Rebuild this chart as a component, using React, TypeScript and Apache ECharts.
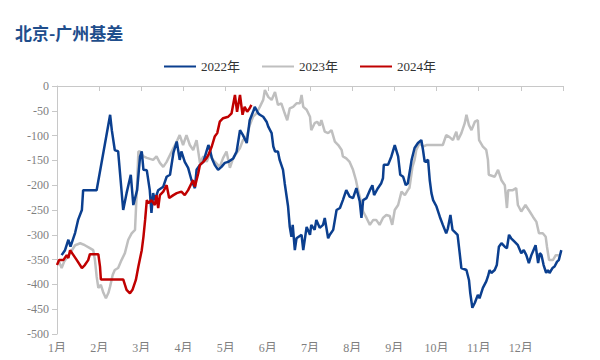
import React, { useEffect, useRef } from "react";
import * as echarts from "echarts";

const monthLabels = ["1月", "2月", "3月", "4月", "5月", "6月", "7月", "8月", "9月", "10月", "11月", "12月"];
const seriesNames = ["2022年", "2023年", "2024年"];

// x positions are in months from 1 Jan (0 = 1月 start, 12 = year end)
const x2022 = [0.11, 0.19, 0.27, 0.32, 0.43, 0.5, 0.59, 0.62, 0.94, 1.26, 1.3, 1.37, 1.45, 1.57, 1.65, 1.75, 1.81, 1.9, 1.97, 2.01, 2.05, 2.13, 2.2, 2.24, 2.28, 2.32, 2.4, 2.52, 2.6, 2.68, 2.76, 2.84, 2.91, 2.95, 3.03, 3.11, 3.19, 3.27, 3.31, 3.39, 3.47, 3.59, 3.63, 3.67, 3.74, 3.82, 3.9, 3.98, 4.06, 4.18, 4.26, 4.34, 4.41, 4.5, 4.57, 4.65, 4.69, 4.77, 4.81, 4.89, 4.97, 5.01, 5.09, 5.13, 5.17, 5.24, 5.28, 5.36, 5.4, 5.48, 5.52, 5.56, 5.59, 5.64, 5.68, 5.8, 5.84, 5.92, 6.0, 6.03, 6.11, 6.15, 6.23, 6.31, 6.35, 6.43, 6.47, 6.55, 6.63, 6.71, 6.78, 6.86, 6.94, 7.02, 7.1, 7.18, 7.22, 7.26, 7.34, 7.42, 7.48, 7.52, 7.61, 7.69, 7.73, 7.75, 7.85, 7.93, 8.01, 8.09, 8.14, 8.21, 8.27, 8.32, 8.41, 8.48, 8.56, 8.64, 8.68, 8.72, 8.8, 8.84, 8.88, 8.92, 9.0, 9.08, 9.15, 9.23, 9.27, 9.33, 9.38, 9.43, 9.5, 9.55, 9.59, 9.71, 9.77, 9.8, 9.85, 9.91, 9.98, 10.02, 10.1, 10.18, 10.22, 10.26, 10.3, 10.38, 10.43, 10.48, 10.54, 10.62, 10.67, 10.72, 10.77, 10.85, 10.93, 11.01, 11.07, 11.13, 11.19, 11.25, 11.3, 11.35, 11.41, 11.45, 11.49, 11.54, 11.6, 11.64, 11.68, 11.75, 11.8, 11.86, 11.9, 11.96];
const y2022 = [-341, -331, -310, -324, -296, -270, -250, -210, -210, -58, -89, -129, -132, -250, -216, -179, -240, -210, -142, -132, -169, -170, -210, -256, -216, -230, -210, -203, -183, -179, -135, -112, -149, -132, -153, -165, -190, -206, -169, -159, -153, -119, -129, -145, -159, -169, -163, -155, -153, -146, -132, -89, -99, -115, -69, -52, -42, -55, -58, -62, -72, -82, -95, -122, -132, -132, -149, -169, -196, -243, -284, -304, -280, -331, -307, -300, -331, -284, -300, -280, -290, -270, -286, -280, -266, -307, -300, -290, -250, -246, -230, -210, -223, -226, -206, -233, -266, -230, -226, -210, -200, -220, -206, -196, -186, -159, -159, -142, -119, -142, -179, -183, -200, -196, -149, -125, -115, -109, -129, -153, -149, -190, -216, -230, -243, -264, -280, -297, -287, -260, -290, -294, -300, -337, -367, -371, -391, -417, -447, -437, -421, -428, -407, -394, -384, -371, -377, -371, -361, -324, -317, -324, -327, -300, -307, -314, -321, -337, -331, -341, -357, -341, -331, -321, -357, -337, -341, -361, -377, -371, -377, -367, -364, -354, -351, -331];

const x2023 = [0.03, 0.11, 0.17, 0.31, 0.43, 0.55, 0.66, 0.78, 0.86, 0.9, 0.94, 0.98, 1.04, 1.1, 1.16, 1.22, 1.26, 1.32, 1.37, 1.45, 1.53, 1.61, 1.69, 1.77, 1.85, 1.89, 1.93, 1.97, 2.05, 2.13, 2.28, 2.36, 2.44, 2.52, 2.6, 2.76, 2.84, 2.91, 2.99, 3.07, 3.15, 3.23, 3.31, 3.39, 3.47, 3.55, 3.63, 3.7, 3.86, 3.94, 4.02, 4.1, 4.18, 4.26, 4.34, 4.41, 4.5, 4.57, 4.65, 4.73, 4.81, 4.89, 4.93, 5.01, 5.09, 5.17, 5.24, 5.32, 5.4, 5.46, 5.52, 5.6, 5.68, 5.76, 5.8, 5.84, 5.92, 6.0, 6.03, 6.11, 6.17, 6.23, 6.27, 6.35, 6.43, 6.51, 6.59, 6.67, 6.75, 6.78, 6.86, 6.94, 7.02, 7.09, 7.14, 7.2, 7.26, 7.34, 7.42, 7.5, 7.57, 7.65, 7.73, 7.81, 7.89, 7.95, 8.01, 8.09, 8.17, 8.25, 8.32, 8.36, 8.43, 8.48, 8.52, 8.6, 8.68, 8.76, 9.15, 9.23, 9.31, 9.39, 9.47, 9.51, 9.59, 9.67, 9.71, 9.77, 9.83, 9.91, 9.98, 10.01, 10.1, 10.18, 10.22, 10.24, 10.38, 10.46, 10.54, 10.62, 10.67, 10.7, 10.81, 10.89, 10.93, 11.01, 11.11, 11.21, 11.29, 11.37, 11.43, 11.52, 11.59, 11.62, 11.67, 11.76, 11.83, 11.9];
const y2023 = [-351, -367, -354, -337, -321, -317, -321, -327, -331, -351, -384, -407, -401, -417, -428, -417, -404, -381, -371, -367, -351, -337, -310, -297, -290, -216, -132, -132, -142, -145, -149, -142, -155, -163, -153, -125, -112, -99, -119, -99, -119, -129, -109, -155, -142, -153, -135, -149, -163, -145, -132, -165, -145, -135, -125, -109, -102, -79, -62, -55, -42, -28, -8, -22, -28, -12, -38, -35, -55, -69, -45, -42, -35, -35, -18, -42, -48, -62, -89, -75, -72, -80, -69, -92, -95, -89, -112, -119, -129, -142, -146, -153, -169, -190, -210, -230, -253, -266, -280, -270, -270, -280, -266, -260, -262, -280, -250, -240, -213, -220, -210, -205, -163, -149, -129, -115, -122, -119, -119, -99, -103, -109, -92, -109, -95, -75, -58, -79, -89, -72, -69, -109, -122, -129, -149, -179, -183, -169, -190, -200, -246, -210, -210, -206, -240, -253, -240, -253, -264, -274, -297, -297, -304, -324, -351, -351, -341, -341];

const x2024 = [0.0, 0.05, 0.15, 0.23, 0.27, 0.31, 0.39, 0.47, 0.59, 0.66, 0.74, 0.78, 0.98, 1.02, 1.04, 1.57, 1.65, 1.73, 1.79, 1.87, 1.93, 2.01, 2.05, 2.09, 2.13, 2.17, 2.24, 2.32, 2.36, 2.4, 2.44, 2.52, 2.6, 2.66, 2.76, 2.84, 2.95, 3.03, 3.11, 3.19, 3.23, 3.27, 3.35, 3.39, 3.47, 3.55, 3.59, 3.67, 3.74, 3.8, 3.86, 3.94, 4.06, 4.14, 4.22, 4.27, 4.34, 4.4, 4.45, 4.51, 4.57, 4.61];
const y2024 = [-361, -351, -351, -341, -347, -331, -341, -351, -367, -361, -351, -339, -339, -364, -390, -390, -411, -418, -411, -391, -364, -331, -304, -270, -230, -236, -230, -240, -220, -246, -220, -213, -200, -226, -220, -216, -213, -220, -210, -196, -190, -203, -176, -159, -153, -145, -139, -122, -102, -95, -72, -65, -62, -55, -18, -52, -18, -58, -42, -52, -45, -38];

const yTicks = { min: -500, max: 0, interval: 50 };

const colors = ["#0B3F8F", "#BFBFBF", "#C00000"];
const serif = "'Liberation Serif', 'Times New Roman', 'Noto Sans CJK SC', serif";

function zip(xs: number[], ys: number[]) {
  return xs.map((x, i) => [x, ys[i]]);
}

export default function App() {
  const ref = useRef<HTMLDivElement>(null);
  useEffect(() => {
    if (!ref.current) return;
    const chart = echarts.init(ref.current, undefined, { renderer: "svg" });
    const datasets = [zip(x2022, y2022), zip(x2023, y2023), zip(x2024, y2024)];
    chart.setOption({
      animation: false,
      backgroundColor: "#ffffff",
      title: {
        text: "北京-广州基差",
        left: 10,
        top: 19,
        textStyle: {
          fontFamily: "'Noto Sans CJK SC', sans-serif",
          fontWeight: "bold",
          fontSize: 17,
          color: "#1F4E8C",
        },
      },
      legend: {
        top: 55,
        left: "center",
        itemWidth: 32,
        itemHeight: 10,
        itemGap: 22,
        icon: "path://M0,4 L32,4 L32,6 L0,6 Z",
        textStyle: { fontFamily: serif, fontSize: 13, color: "#333333" },
        data: seriesNames,
      },
      grid: { left: 57, right: 37, top: 86, bottom: 26, containLabel: false },
      xAxis: [
        {
          type: "value",
          position: "bottom",
          min: 0,
          max: 12,
          interval: 1,
          axisLine: { show: false },
          axisTick: { show: false },
          splitLine: { show: false },
          axisLabel: {
            color: "#7F7F7F",
            fontFamily: serif,
            fontSize: 12,
            margin: 8,
            formatter: (v: number) => (v >= 0 && v < 12 ? monthLabels[Math.round(v)] : ""),
          },
        },
        {
          type: "value",
          position: "top",
          min: 0,
          max: 12,
          interval: 1,
          axisLine: { show: true, lineStyle: { color: "#C8C8C8", width: 1 } },
          axisTick: { show: true, inside: true, length: 5, lineStyle: { color: "#C8C8C8" } },
          axisLabel: { show: false },
          splitLine: { show: false },
        },
      ],
      yAxis: {
        type: "value",
        min: yTicks.min,
        max: yTicks.max,
        interval: yTicks.interval,
        axisLine: { show: true, lineStyle: { color: "#C8C8C8", width: 1 } },
        axisTick: { show: true, length: 5, lineStyle: { color: "#C8C8C8" } },
        splitLine: { show: false },
        axisLabel: { color: "#7F7F7F", fontFamily: serif, fontSize: 12, margin: 8 },
      },
      series: seriesNames.map((name, i) => ({
        name,
        type: "line",
        xAxisIndex: 0,
        data: datasets[i],
        symbol: "none",
        color: colors[i],
        lineStyle: { width: 2.5, color: colors[i] },
        z: i === 1 ? 1 : i === 0 ? 2 : 3,
      })),
    });
    return () => chart.dispose();
  }, []);
  return <div ref={ref} style={{ width: 600, height: 360, margin: -8 }} />;
}
